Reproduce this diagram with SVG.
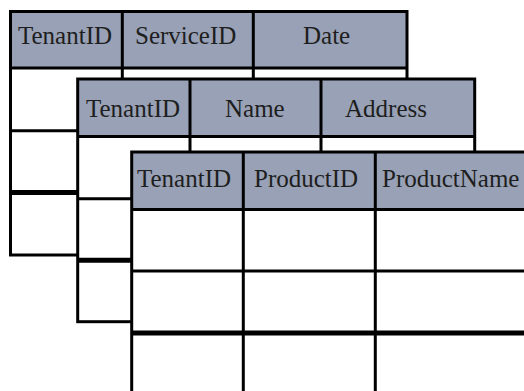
<svg xmlns="http://www.w3.org/2000/svg" width="524" height="391" viewBox="0 0 524 391">
  <style>
    .body { fill: #ffffff; }
    .hdr { fill: #98a1b5; }
    .ln { stroke: #000000; stroke-width: 3; fill: none; }
    .thk { stroke-width: 5; }
    .lbl { font-size: 25px; fill: #1e1e1e; }
  </style>
  <rect width="524" height="391" fill="#ffffff"/>

  <!-- Table: TenantID / ServiceID / Date -->
  <g id="table-services">
    <rect class="body" x="10.5" y="11.5" width="396.5" height="243.5"/>
    <rect class="hdr" x="10.5" y="11.5" width="396.5" height="56.5"/>
    <line class="ln" x1="10.5" y1="68" x2="407" y2="68"/>
    <line class="ln" x1="10.5" y1="130.7" x2="407" y2="130.7"/>
    <line class="ln thk" x1="10.5" y1="192.5" x2="407" y2="192.5"/>
    <line class="ln" x1="122.3" y1="11.5" x2="122.3" y2="255"/>
    <line class="ln" x1="253.3" y1="11.5" x2="253.3" y2="255"/>
    <rect class="ln" x="10.5" y="11.5" width="396.5" height="243.5"/>
    <g class="lbl" font-family="'Liberation Serif', 'DejaVu Serif', serif">
      <text x="18" y="44">TenantID</text>
      <text x="135" y="44">ServiceID</text>
      <text x="303" y="44">Date</text>
    </g>
  </g>

  <!-- Table: TenantID / Name / Address -->
  <g id="table-tenants">
    <rect class="body" x="77.7" y="79" width="397" height="242.7"/>
    <rect class="hdr" x="77.7" y="79" width="397" height="57.5"/>
    <line class="ln" x1="77.7" y1="136.5" x2="474.7" y2="136.5"/>
    <line class="ln" x1="77.7" y1="198.7" x2="474.7" y2="198.7"/>
    <line class="ln thk" x1="77.7" y1="260.3" x2="474.7" y2="260.3"/>
    <line class="ln" x1="190" y1="79" x2="190" y2="321.7"/>
    <line class="ln" x1="321" y1="79" x2="321" y2="321.7"/>
    <rect class="ln" x="77.7" y="79" width="397" height="242.7"/>
    <g class="lbl" font-family="'Liberation Serif', 'DejaVu Serif', serif">
      <text x="86" y="116.5">TenantID</text>
      <text x="225" y="116.5">Name</text>
      <text x="345" y="116.5">Address</text>
    </g>
  </g>

  <!-- Table: TenantID / ProductID / ProductName -->
  <g id="table-products">
    <rect class="body" x="131.7" y="152" width="420" height="260"/>
    <rect class="hdr" x="131.7" y="152" width="420" height="57.5"/>
    <line class="ln" x1="131.7" y1="209.5" x2="551.7" y2="209.5"/>
    <line class="ln" x1="131.7" y1="271" x2="551.7" y2="271"/>
    <line class="ln thk" x1="131.7" y1="333" x2="551.7" y2="333"/>
    <line class="ln" x1="243.3" y1="152" x2="243.3" y2="412"/>
    <line class="ln" x1="375.3" y1="152" x2="375.3" y2="412"/>
    <rect class="ln" x="131.7" y="152" width="420" height="260"/>
    <g class="lbl" font-family="'Liberation Serif', 'DejaVu Serif', serif">
      <text x="137" y="187">TenantID</text>
      <text x="254" y="187">ProductID</text>
      <text x="382" y="187">ProductName</text>
    </g>
  </g>
</svg>
